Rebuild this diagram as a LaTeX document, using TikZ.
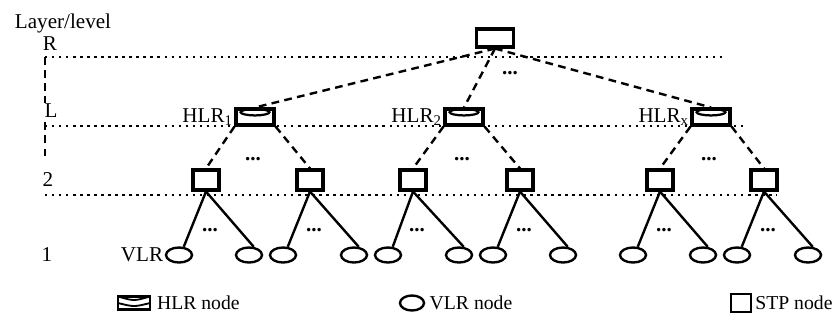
\documentclass[tikz,border=0pt]{standalone}
\usepackage{fontspec}
\setmainfont{Liberation Serif}
\usetikzlibrary{shapes.geometric}

\begin{document}
\begin{tikzpicture}[x=0.025cm,y=-0.025cm,
  every node/.style={font=\fontsize{15}{17}\selectfont},
  stpbox/.style={rectangle,draw,line width=2.2pt,inner sep=0pt,minimum width=0.65cm,minimum height=0.5cm},
  hlrbox/.style={rectangle,draw,line width=2.2pt,inner sep=0pt,minimum width=0.95cm,minimum height=0.4cm,
    path picture={\draw[line width=1.6pt] ([yshift=-0.08cm]path picture bounding box.north) ellipse (0.36cm and 0.08cm);}},
  hlrkey/.style={rectangle,draw,line width=1.6pt,inner sep=0pt,minimum width=0.8cm,minimum height=0.33cm,
    path picture={\draw[line width=1.3pt] (path picture bounding box.north west) .. controls ([yshift=-0.12cm]path picture bounding box.north) .. (path picture bounding box.north east);
      \draw[line width=1.3pt] (path picture bounding box.west) .. controls ([yshift=-0.1cm]path picture bounding box.center) .. (path picture bounding box.east);}},
  vlr/.style={ellipse,draw,line width=1.7pt,inner sep=0pt,minimum width=0.65cm,minimum height=0.375cm},
  dashlink/.style={line width=1.7pt,dash pattern=on 5.5pt off 3.8pt},
  solidlink/.style={line width=1.7pt},
  levelline/.style={line width=1.7pt,dash pattern=on 1.7pt off 3.3pt},
  more/.style={font=\fontsize{15}{17}\selectfont\bfseries,anchor=base},
  keytext/.style={font=\fontsize{14}{16}\selectfont,anchor=west}
]
\useasboundingbox (0,0) rectangle (832,325);

% layers
\coordinate (rw) at (45,57);
\coordinate (re) at (723,57);
\coordinate (lw) at (45,126);
\coordinate (le) at (743,126);
\coordinate (tw) at (45,195);
\coordinate (te) at (777,195);
\coordinate (vb) at (45,160);
\draw[levelline] (rw)--(re);
\draw[levelline] (lw)--(le);
\draw[levelline] (tw)--(te);
\draw[dashlink] (rw)--(vb);
\draw (10,28)node[anchor=base west](title){Layer/level};
\draw (50,44)node(lr){R};
\draw (51,111)node[fill=white,inner sep=1pt](ll){L};
\draw (48,180)node(l2){2};
\draw (47,255)node(l1){1};

% root and HLRs
\draw (495,38)node[stpbox,minimum width=0.925cm,minimum height=0.45cm](root){};
\draw (255,117)node[hlrbox](h1){};
\draw (464,117)node[hlrbox](h2){};
\draw (711,117)node[hlrbox](h3){};
\draw (h1.west)node[anchor=east,inner sep=1pt]{HLR\textsubscript{1}};
\draw (h2.west)node[anchor=east,inner sep=1pt]{HLR\textsubscript{2}};
\draw (h3.west)node[anchor=east,inner sep=1pt]{HLR\textsubscript{x}};
\draw[dashlink] (root.south)--(h1.north);
\draw[dashlink] (root.south)--(h2.north);
\draw[dashlink] (root.south)--(h3.north);
\draw (510,74)node[more](rdots){...};

% STPs
\draw (206,180)node[stpbox](s1){};
\draw (310,180)node[stpbox](s2){};
\draw (413,180)node[stpbox](s3){};
\draw (520,180)node[stpbox](s4){};
\draw (660,180)node[stpbox](s5){};
\draw (764,180)node[stpbox](s6){};
\draw[dashlink] (h1.south west)--(s1.north);
\draw[dashlink] (h1.south east)--(s2.north);
\draw[dashlink] (h2.south west)--(s3.north);
\draw[dashlink] (h2.south east)--(s4.north);
\draw[dashlink] (h3.south west)--(s5.north);
\draw[dashlink] (h3.south east)--(s6.north);
\draw (253,160)node[more]{...};
\draw (462,160)node[more]{...};
\draw (709,160)node[more]{...};

% VLRs
\draw (179,255)node[vlr](v1){};
\draw (249,255)node[vlr](v2){};
\draw (283,255)node[vlr](v3){};
\draw (354,255)node[vlr](v4){};
\draw (388,255)node[vlr](v5){};
\draw (459,255)node[vlr](v6){};
\draw (493,255)node[vlr](v7){};
\draw (563,255)node[vlr](v8){};
\draw (633,255)node[vlr](v9){};
\draw (703,255)node[vlr](v10){};
\draw (737,255)node[vlr](v11){};
\draw (808,255)node[vlr](v12){};
\draw (v1.west)node[anchor=east,inner sep=1pt]{VLR};
\draw[solidlink] (s1.south)--(v1.60);
\draw[solidlink] (s1.south)--(v2.60);
\draw[solidlink] (s2.south)--(v3.60);
\draw[solidlink] (s2.south)--(v4.60);
\draw[solidlink] (s3.south)--(v5.60);
\draw[solidlink] (s3.south)--(v6.60);
\draw[solidlink] (s4.south)--(v7.60);
\draw[solidlink] (s4.south)--(v8.60);
\draw[solidlink] (s5.south)--(v9.60);
\draw[solidlink] (s5.south)--(v10.60);
\draw[solidlink] (s6.south)--(v11.60);
\draw[solidlink] (s6.south)--(v12.60);
\draw (210,231)node[more]{...};
\draw (314,231)node[more]{...};
\draw (417,231)node[more]{...};
\draw (524,231)node[more]{...};
\draw (664,231)node[more]{...};
\draw (768,231)node[more]{...};

% legend
\draw (134,303)node[hlrkey](khlr){};
\draw (khlr.east)node[keytext,inner sep=4pt]{HLR node};
\draw (412,303)node[vlr,minimum width=0.6cm](kvlr){};
\draw (kvlr.east)node[keytext,inner sep=3pt]{VLR node};
\draw (741,303)node[stpbox,line width=1.8pt,minimum width=0.5cm,minimum height=0.45cm](kstp){};
\draw (kstp.east)node[keytext,inner sep=2pt]{STP node};
\end{tikzpicture}
\end{document}
